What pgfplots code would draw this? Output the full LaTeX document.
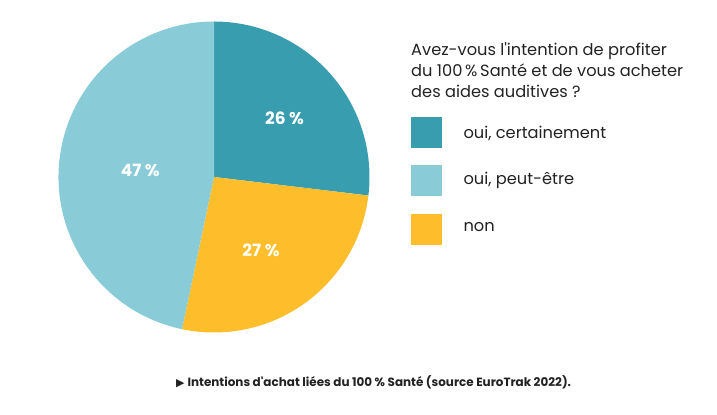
\documentclass[border=0pt]{standalone}
\usepackage{pgfplots}
\pgfplotsset{compat=1.18}
\usepackage{fontspec}
\setmainfont{Poppins}[Ligatures=TeXOff]
\newfontfamily\sym{DejaVu Sans}
\definecolor{cteal}{HTML}{399DB0}
\definecolor{clight}{HTML}{89CCD8}
\definecolor{cyellow}{HTML}{FEBE2B}
\definecolor{ctext}{HTML}{222222}
% slice shares (percent) as drawn
\def\vA{26.9} % oui, certainement
\def\vB{26.4} % non
\def\vC{46.7} % oui, peut-etre
\begin{document}
\begin{tikzpicture}
\path (0bp,0bp) rectangle (717bp,415bp);
\pgfmathsetmacro\aA{90-3.6*\vA}
\pgfmathsetmacro\aB{\aA-3.6*\vB}
\pgfmathsetmacro\aC{\aB-3.6*\vC}
\begin{axis}[at={(214bp,238bp)}, anchor=center, scale only axis,
  width=311bp, height=311bp, xmin=-1, xmax=1, ymin=-1, ymax=1,
  axis lines=none, clip=false]
\def\R{155.5bp}
\fill[cteal] (axis cs:0,0) -- ++(90:\R) arc[start angle=90, end angle=\aA, radius=\R] -- cycle;
\fill[cyellow] (axis cs:0,0) -- ++(\aA:\R) arc[start angle=\aA, end angle=\aB, radius=\R] -- cycle;
\fill[clight] (axis cs:0,0) -- ++(\aB:\R) arc[start angle=\aB, end angle=\aC, radius=\R] -- cycle;
\end{axis}
\begin{scope}[every node/.style={text=white, font=\bfseries\fontsize{17}{20}\selectfont, inner sep=0pt}]
\node at (284.5bp,296.5bp) {26 \%};
\node at (140.3bp,245bp) {47 \%};
\node at (261bp,164.5bp) {27 \%};
\end{scope}
\begin{scope}[every node/.style={text=ctext, font=\fontsize{16.3}{19}\selectfont, inner sep=0pt, anchor=base west}]
\node at (411bp,359.3bp) {Avez-vous l'intention de profiter};
\node at (411bp,338.3bp) {du 100\,\%\,Santé et de vous acheter};
\node at (411bp,317.3bp) {des aides auditives ?};
\node at (463.3bp,276.7bp) {oui, certainement};
\node at (463.3bp,230bp) {oui, peut-être};
\node at (463.3bp,183.3bp) {non};
\end{scope}
\fill[cteal] (411bp,267.3bp) rectangle (442bp,297.7bp);
\fill[clight] (411bp,219.3bp) rectangle (442bp,250bp);
\fill[cyellow] (411bp,170bp) rectangle (442bp,201bp);
\node[anchor=base west, inner sep=0pt, text=ctext, font=\bfseries\fontsize{12}{14}\selectfont] at (176bp,29bp) {{\sym\fontsize{11}{13}\selectfont ▶}\hspace{3bp}Intentions d'achat liées du 100 \% Santé (source EuroTrak 2022).};
\end{tikzpicture}
\end{document}
